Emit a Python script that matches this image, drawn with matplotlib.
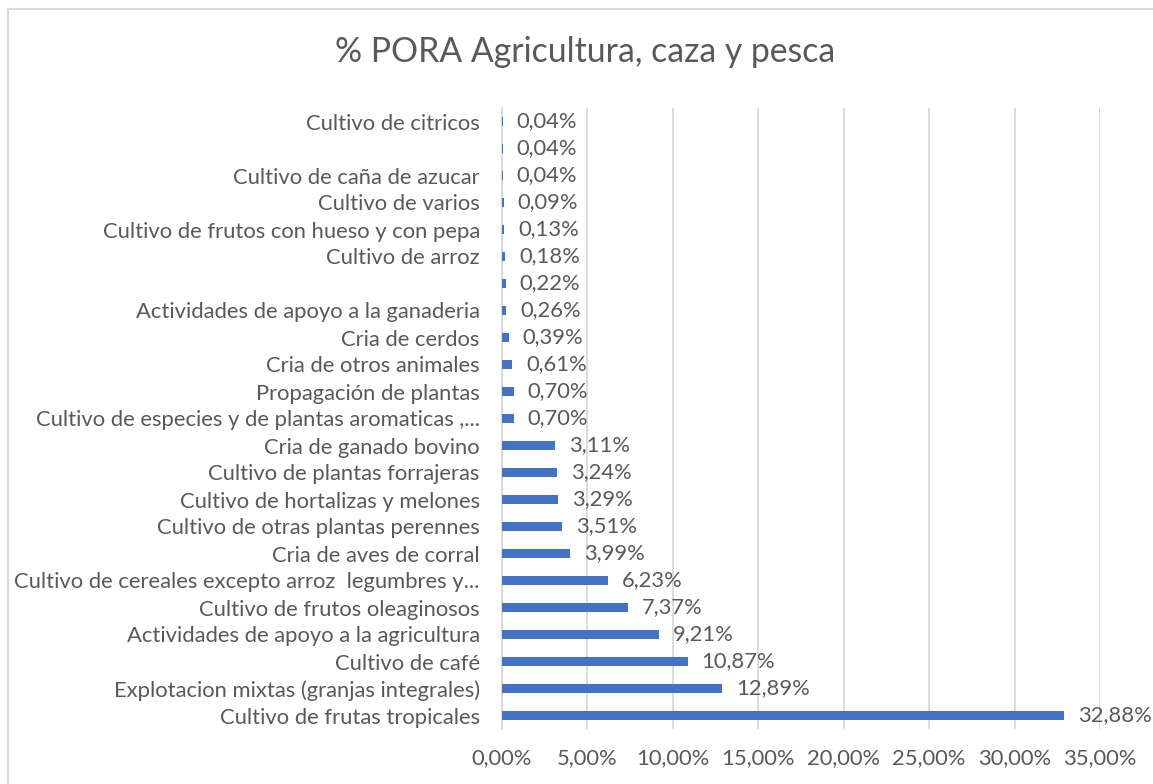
import matplotlib
matplotlib.use("Agg")
import matplotlib.pyplot as plt
from matplotlib.patches import Rectangle

plt.rcParams['font.family'] = ['Lato', 'DejaVu Sans']

# categorias de abajo hacia arriba (la mayor queda abajo)
categorias = [
    "Cultivo de frutas tropicales",
    "Explotacion mixtas (granjas integrales)",
    "Cultivo de café",
    "Actividades de apoyo a la agricultura",
    "Cultivo de frutos oleaginosos",
    "Cultivo de cereales excepto arroz  legumbres y...",
    "Cria de aves de corral",
    "Cultivo de otras plantas perennes",
    "Cultivo de hortalizas y melones",
    "Cultivo de plantas forrajeras",
    "Cria de ganado bovino",
    "Cultivo de especies y de plantas aromaticas ,...",
    "Propagación de plantas",
    "Cria de otros animales",
    "Cria de cerdos",
    "Actividades de apoyo a la ganaderia",
    "",
    "Cultivo de arroz",
    "Cultivo de frutos con hueso y con pepa",
    "Cultivo de varios",
    "Cultivo de caña de azucar",
    "",
    "Cultivo de citricos",
]
porcentajes = [32.88, 12.89, 10.87, 9.21, 7.37, 6.23, 3.99, 3.51, 3.29, 3.24,
               3.11, 0.70, 0.70, 0.61, 0.39, 0.26, 0.22, 0.18, 0.13, 0.09,
               0.04, 0.04, 0.04]
ticks_x = [0, 5, 10, 15, 20, 25, 30, 35]

gris = '#595959'
azul = '#4472C4'
fs = 15.8

fig = plt.figure(figsize=(11.53, 7.84), dpi=100)
ax = fig.add_axes([502/1153, 1 - 729/784, (1100-502)/1153, (729-108)/784])

pos = list(range(len(categorias)))
ax.barh(pos, porcentajes, height=0.37, color=azul, zorder=3)

def fmt(v):
    return f"{v:.2f}".replace('.', ',') + '%'

for y, v in zip(pos, porcentajes):
    ax.annotate(fmt(v), (v, y), xytext=(10, 0), textcoords='offset points',
                va='center', ha='left', fontsize=fs, color=gris)

ax.set_xlim(0, 35)
ax.set_ylim(-0.5, len(categorias) - 0.5)
ax.set_xticks(ticks_x)
ax.set_xticklabels([fmt(t) for t in ticks_x], fontsize=fs, color=gris)
ax.set_yticks(pos)
ax.set_yticklabels(categorias, fontsize=fs, color=gris)
ax.tick_params(axis='both', length=0)
ax.tick_params(axis='x', pad=14)
ax.tick_params(axis='y', pad=16)

ax.grid(axis='x', color='#D9D9D9', linewidth=1.3, zorder=0)
for s in ['top', 'right', 'bottom']:
    ax.spines[s].set_visible(False)
ax.spines['left'].set_color('#D9D9D9')
ax.spines['left'].set_linewidth(1.3)

fig.text(585/1153, 1 - 52/784, "% PORA Agricultura, caza y pesca", ha='center',
         va='center', fontsize=24.3, color=gris)

# marco del grafico
fig.patches.append(Rectangle((8/1153, -0.1), 1.2, 1.1 - 9/784,
                             transform=fig.transFigure, fill=False,
                             edgecolor='#D9D9D9', linewidth=1.5))

fig.savefig("out.png", dpi=100)
